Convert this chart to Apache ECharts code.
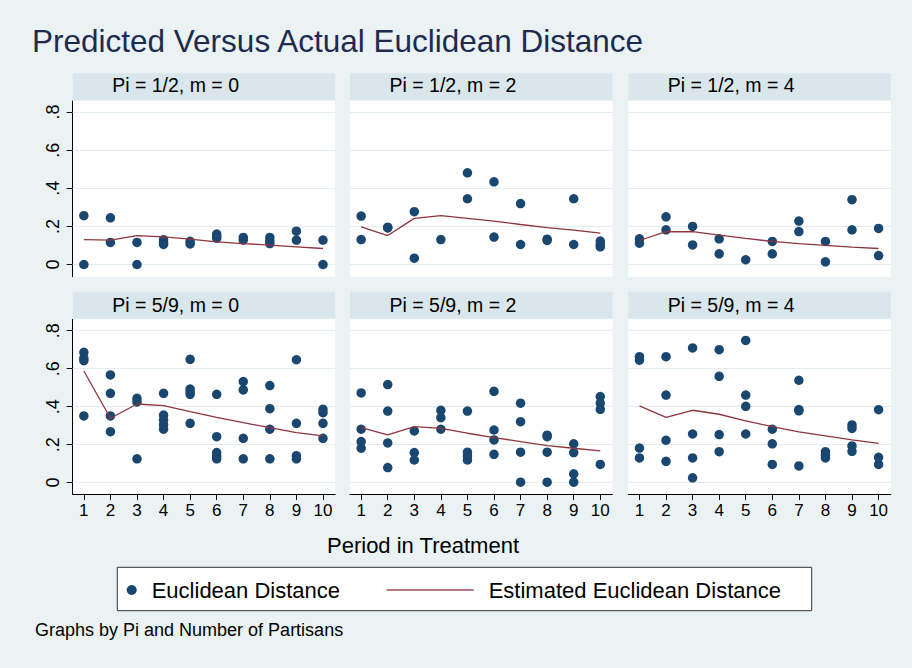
<!DOCTYPE html>
<html>
<head>
<meta charset="utf-8">
<style>
  html, body { margin: 0; padding: 0; background: #eaf2f3; }
  #chart { width: 912px; height: 668px; }
</style>
<script src="https://cdn.jsdelivr.net/npm/echarts@6/dist/echarts.min.js"></script>
</head>
<body>
<div id="chart"></div>
<script>
// ---------- data ----------
const periods = [1, 2, 3, 4, 5, 6, 7, 8, 9, 10];
const yTicks = [0, 0.2, 0.4, 0.6, 0.8];
const panelTitles = ['Pi = 1/2, m = 0', 'Pi = 1/2, m = 2', 'Pi = 1/2, m = 4',
                     'Pi = 5/9, m = 0', 'Pi = 5/9, m = 2', 'Pi = 5/9, m = 4'];

const actualHalfM0 = [[1,0.256],[1,0],[2,0.245],[2,0.116],[3,0.116],[3,0],
  [4,0.130],[4,0.115],[4,0.105],[5,0.122],[5,0.108],[6,0.160],[6,0.148],[6,0.138],
  [7,0.142],[7,0.128],[8,0.142],[8,0.124],[8,0.110],[9,0.175],[9,0.128],[10,0.128],[10,0]];
const predHalfM0 = [0.131,0.128,0.152,0.145,0.133,0.119,0.110,0.102,0.093,0.084];

const actualHalfM2 = [[1,0.254],[1,0.131],[2,0.196],[2,0.192],[3,0.277],[3,0.033],
  [4,0.131],[5,0.481],[5,0.345],[6,0.434],[6,0.144],[7,0.320],[7,0.105],
  [8,0.133],[8,0.127],[9,0.345],[9,0.105],[10,0.123],[10,0.105],[10,0.093]];
const predHalfM2 = [0.198,0.152,0.242,0.256,0.242,0.228,0.210,0.194,0.180,0.165];

const actualHalfM4 = [[1,0.135],[1,0.112],[2,0.250],[2,0.182],[3,0.200],[3,0.103],
  [4,0.135],[4,0.056],[5,0.025],[6,0.121],[6,0.056],[7,0.228],[7,0.173],
  [8,0.121],[8,0.014],[9,0.340],[9,0.182],[10,0.189],[10,0.047]];
const predHalfM4 = [0.126,0.172,0.172,0.154,0.137,0.121,0.110,0.100,0.091,0.084];

const actualFiveNinthsM0 = [[1,0.686],[1,0.655],[1,0.642],[1,0.351],
  [2,0.567],[2,0.470],[2,0.351],[2,0.268],[3,0.444],[3,0.425],[3,0.125],
  [4,0.470],[4,0.356],[4,0.330],[4,0.305],[4,0.281],
  [5,0.649],[5,0.493],[5,0.478],[5,0.465],[5,0.312],
  [6,0.465],[6,0.242],[6,0.158],[6,0.140],[6,0.125],
  [7,0.532],[7,0.488],[7,0.233],[7,0.125],[8,0.511],[8,0.389],[8,0.281],[8,0.125],
  [9,0.647],[9,0.312],[9,0.142],[9,0.125],[10,0.386],[10,0.368],[10,0.312],[10,0.233]];
const predFiveNinthsM0 = [0.588,0.339,0.414,0.405,0.374,0.344,0.316,0.289,0.263,0.246];

const actualFiveNinthsM2 = [[1,0.472],[1,0.281],[1,0.216],[1,0.181],
  [2,0.516],[2,0.377],[2,0.209],[2,0.079],[3,0.272],[3,0.158],[3,0.119],
  [4,0.381],[4,0.342],[4,0.281],[5,0.377],[5,0.160],[5,0.140],[5,0.119],
  [6,0.481],[6,0.277],[6,0.225],[6,0.149],[7,0.418],[7,0.321],[7,0.160],[7,0.002],
  [8,0.250],[8,0.242],[8,0.160],[8,0.002],[9,0.204],[9,0.158],[9,0.046],[9,0.002],
  [10,0.453],[10,0.418],[10,0.386],[10,0.096]];
const predFiveNinthsM2 = [0.289,0.251,0.295,0.286,0.260,0.237,0.216,0.195,0.181,0.167];

const actualFiveNinthsM4 = [[1,0.663],[1,0.645],[1,0.182],[1,0.130],
  [2,0.663],[2,0.461],[2,0.223],[2,0.112],[3,0.709],[3,0.256],[3,0.130],[3,0.025],
  [4,0.700],[4,0.560],[4,0.253],[4,0.163],[5,0.749],[5,0.461],[5,0.402],[5,0.256],
  [6,0.281],[6,0.204],[6,0.096],[7,0.539],[7,0.385],[7,0.378],[7,0.088],
  [8,0.163],[8,0.145],[8,0.130],[9,0.304],[9,0.285],[9,0.193],[9,0.165],
  [10,0.384],[10,0.133],[10,0.096]];
const predFiveNinthsM4 = [0.404,0.344,0.381,0.360,0.325,0.295,0.267,0.246,0.225,0.207];

const actualSets = [actualHalfM0, actualHalfM2, actualHalfM4,
                    actualFiveNinthsM0, actualFiveNinthsM2, actualFiveNinthsM4];
const predSets = [predHalfM0, predHalfM2, predHalfM4,
                  predFiveNinthsM0, predFiveNinthsM2, predFiveNinthsM4];

// ---------- layout ----------
const FONT = 'Liberation Sans, Arial, Helvetica, sans-serif';
const colLeft = [72.7, 350, 628.3];
const panelW = 262.5;
const rowTop = [101, 319.3];
const rowH = [175.7, 174.7];
const rowYMin = [-0.064, -0.06];
const rowYMax = [0.858, 0.86];
const stripTop = [73.3, 291.7];
const stripH = 26.7;
const stripTextTop = [75.3, 294.7];

const grids = [], xAxes = [], yAxes = [], series = [], titles = [], graphics = [];

titles.push({
  text: 'Predicted Versus Actual Euclidean Distance',
  left: 32, top: 25, padding: 0,
  textStyle: { fontFamily: FONT, fontSize: 31.5, fontWeight: 'normal', color: '#1e2b50' }
});

for (let i = 0; i < 6; i++) {
  const row = Math.floor(i / 3), col = i % 3;
  grids.push({
    left: colLeft[col], top: rowTop[row], width: panelW, height: rowH[row],
    show: true, backgroundColor: '#ffffff', borderWidth: 0, containLabel: false
  });
  const bottomRow = row === 1;
  xAxes.push({
    type: 'value', gridIndex: i, min: 0.58, max: 10.46,
    axisLine: { show: bottomRow, onZero: false, lineStyle: { color: '#000', width: 1 } },
    axisTick: { show: bottomRow, customValues: periods, length: 6, lineStyle: { color: '#000', width: 1 } },
    axisLabel: { show: bottomRow, customValues: periods, fontSize: 17, color: '#000', fontFamily: FONT, margin: 8 },
    splitLine: { show: false }
  });
  const leftCol = col === 0;
  yAxes.push({
    type: 'value', gridIndex: i, min: rowYMin[row], max: rowYMax[row],
    axisLine: { show: leftCol, onZero: false, lineStyle: { color: '#000', width: 1 } },
    axisTick: { show: leftCol, customValues: yTicks, length: 6, lineStyle: { color: '#000', width: 1 } },
    axisLabel: {
      show: leftCol, customValues: yTicks, rotate: 90, fontSize: 18, color: '#000', fontFamily: FONT, margin: 11,
      formatter: v => (Math.abs(v) < 1e-9 ? '0' : String(Math.round(v * 10) / 10).replace(/^0\./, '.'))
    },
    splitLine: { show: false }
  });
  series.push({
    name: 'Euclidean Distance', type: 'scatter', xAxisIndex: i, yAxisIndex: i,
    data: actualSets[i], symbol: 'circle', symbolSize: 9.5,
    itemStyle: { color: '#1a476f', opacity: 1 }, z: 3,
    markLine: {
      silent: true, symbol: 'none', z: 1, animation: false,
      label: { show: false },
      lineStyle: { color: '#e3ecf0', width: 1, type: 'solid' },
      data: yTicks.map(v => ({ yAxis: v }))
    }
  });
  series.push({
    name: 'Estimated Euclidean Distance', type: 'line', xAxisIndex: i, yAxisIndex: i,
    data: periods.map((p, j) => [p, predSets[i][j]]),
    symbol: 'none', showSymbol: false,
    lineStyle: { color: '#90353b', width: 1.3 }, z: 4
  });
  graphics.push({
    type: 'rect', z: -1,
    shape: { x: colLeft[col], y: stripTop[row], width: panelW, height: stripH },
    style: { fill: '#d9e6eb' }
  });
  titles.push({
    text: panelTitles[i], left: colLeft[col] + 39.5, top: stripTextTop[row], padding: 0,
    textStyle: { fontFamily: FONT, fontSize: 19.5, fontWeight: 'normal', color: '#000' }
  });
}

titles.push({
  text: 'Period in Treatment', left: 423, top: 534.5, padding: 0, textAlign: 'center',
  textStyle: { fontFamily: FONT, fontSize: 22, fontWeight: 'normal', color: '#000' }
});
titles.push({
  text: 'Graphs by Pi and Number of Partisans', left: 35, top: 621.3, padding: 0,
  textStyle: { fontFamily: FONT, fontSize: 18, fontWeight: 'normal', color: '#000' }
});

graphics.push({
  type: 'rect', z: -1,
  shape: { x: 117.3, y: 567.3, width: 694.4, height: 43.4 },
  style: { fill: '#ffffff', stroke: '#333333', lineWidth: 1 }
});

const option = {
  backgroundColor: '#eaf2f3',
  animation: false,
  title: titles,
  grid: grids,
  xAxis: xAxes,
  yAxis: yAxes,
  series: series,
  graphic: graphics,
  legend: [
    {
      data: [{ name: 'Euclidean Distance', icon: 'circle' }],
      left: 126.7, top: 579, padding: 0, selectedMode: false,
      itemWidth: 10, itemHeight: 10,
      textStyle: { fontFamily: FONT, fontSize: 22, color: '#000', padding: [0, 0, 0, 10] }
    },
    {
      data: [{ name: 'Estimated Euclidean Distance', icon: 'rect' }],
      left: 386.7, top: 579, padding: 0, selectedMode: false,
      itemWidth: 87, itemHeight: 1.5,
      itemStyle: { color: '#a04a50' },
      textStyle: { fontFamily: FONT, fontSize: 22, color: '#000', padding: [0, 0, 0, 10] }
    }
  ]
};

const chart = echarts.init(document.getElementById('chart'), null, { renderer: 'svg', width: 912, height: 668 });
chart.setOption(option);
</script>
</body>
</html>
